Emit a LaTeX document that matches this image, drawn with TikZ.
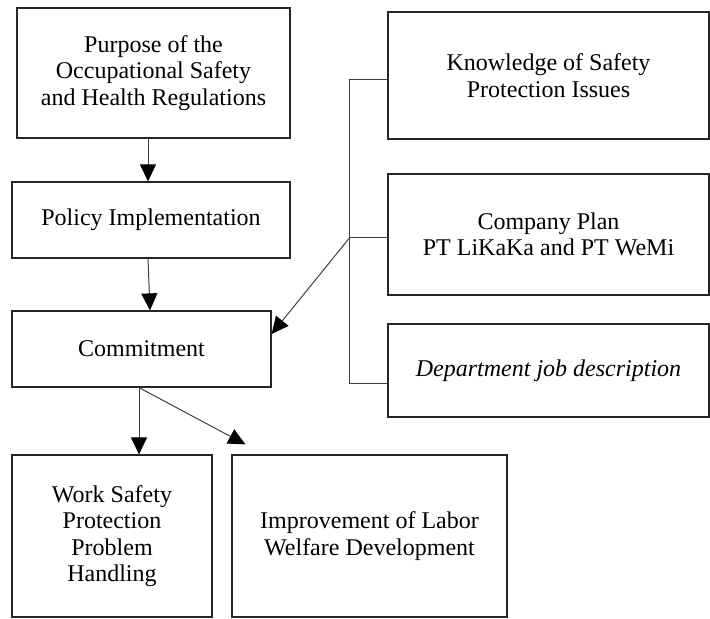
\documentclass[tikz,border=0pt]{standalone}
\usepackage{fontspec}
\setmainfont{Liberation Serif}
\usetikzlibrary{arrows.meta, positioning}

\begin{document}
\begin{tikzpicture}[
    x=0.5pt, y=-0.5pt,
    every node/.style={font=\fontsize{12}{13.25}\selectfont},
    plain_box/.style={rectangle, draw=black!85, line width=0.6pt, align=center, inner sep=0pt},
    flow_line/.style={-{Triangle[length=8.5pt, width=8pt, black]}, draw=black!75, line width=0.5pt},
    link_line/.style={draw=black!75, line width=0.5pt}
]
    \useasboundingbox (0,0) rectangle (710,619);

    % Main flow
    \node[plain_box, minimum width=136.5pt, minimum height=65pt] (purpose) at (153.5,73)
        {Purpose of the\\ Occupational Safety\\ and Health Regulations};
    \node[plain_box, minimum width=139pt, minimum height=38pt] (policy) at (151,220)
        {Policy Implementation};
    \node[plain_box, minimum width=129.5pt, minimum height=38pt] (commit) at (141.5,349)
        {Commitment};

    \draw[flow_line] ([xshift=-2.75pt]purpose.south) -- ([xshift=-2.75pt]purpose.south |- policy.north);
    \draw[flow_line] ([xshift=-1.5pt]policy.south) -- ([xshift=4.25pt]commit.north);

    % Supporting factors
    \node[plain_box, minimum width=160.5pt, minimum height=63.5pt] (know) at (548.5,75.5)
        {Knowledge of Safety\\ Protection Issues};
    \node[plain_box, minimum width=160.5pt, minimum height=60.5pt] (plan) at (548.5,234.5)
        {Company Plan\\ PT LiKaKa and PT WeMi};
    \node[plain_box, minimum width=160.5pt, minimum height=46.5pt] (dept) at (548.5,370.5)
        {\itshape Department job description};

    \draw[link_line] ([yshift=-2.25pt]know.west) -- ++(-19pt,0) |- ([yshift=-6.25pt]dept.west);
    \draw[link_line] ([yshift=-1.75pt]plan.west) -- ++(-19pt,0) coordinate (hub);
    \draw[flow_line] (hub) -- ([yshift=7.5pt]commit.east);

    % Outcomes
    \node[plain_box, minimum width=100pt, minimum height=81pt] (worksafe) at (112,536)
        {Work Safety\\ Protection\\ Problem\\ Handling};
    \node[plain_box, minimum width=137.5pt, minimum height=81pt] (improve) at (369.5,536)
        {Improvement of Labor\\ Welfare Development};

    \draw[flow_line] ([xshift=-1.25pt]commit.south) -- ([xshift=-1.25pt]commit.south |- worksafe.north);
    \draw[flow_line] ([xshift=-1.25pt]commit.south) -- ([xshift=7pt, yshift=5pt]improve.north west);

\end{tikzpicture}
\end{document}
